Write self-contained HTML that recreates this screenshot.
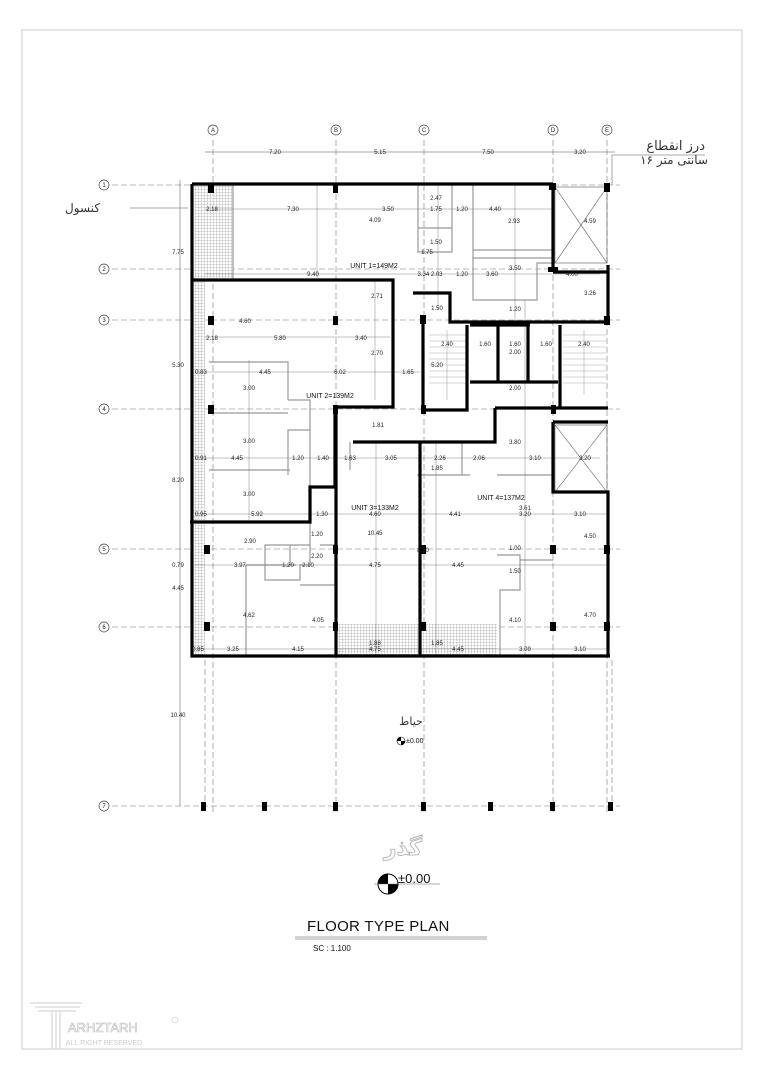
<!DOCTYPE html>
<html><head><meta charset="utf-8"><style>
html,body{margin:0;padding:0;background:#fff;width:764px;height:1080px;overflow:hidden}
svg{display:block}
text{font-family:"Liberation Sans",sans-serif}
.d{font-size:6px;fill:#222}
.fa{font-family:"DejaVu Sans","Noto Sans CJK SC",sans-serif}
</style></head><body>
<svg width="764" height="1080" viewBox="0 0 764 1080" xmlns="http://www.w3.org/2000/svg">
<defs>
<pattern id="h" width="3" height="3" patternUnits="userSpaceOnUse"><rect width="3" height="3" fill="#fff"/><path d="M0 0H3M0 0V3" stroke="#888" stroke-width="0.6"/></pattern>
</defs>
<!-- page frame -->
<rect x="22" y="30" width="720" height="1019" fill="none" stroke="#ccc" stroke-width="1"/>

<!-- grid lines -->
<g stroke="#777" stroke-width="0.6" stroke-dasharray="6,3" fill="none">
<line x1="213" y1="140" x2="213" y2="815"/><line x1="336" y1="140" x2="336" y2="815"/><line x1="424" y1="140" x2="424" y2="815"/><line x1="553" y1="140" x2="553" y2="815"/><line x1="607" y1="140" x2="607" y2="815"/>
<line x1="112" y1="185" x2="620" y2="185"/><line x1="112" y1="269" x2="620" y2="269"/><line x1="112" y1="320" x2="620" y2="320"/><line x1="112" y1="409" x2="620" y2="409"/><line x1="112" y1="549" x2="620" y2="549"/><line x1="112" y1="627" x2="620" y2="627"/><line x1="112" y1="806" x2="620" y2="806"/>
<line x1="205" y1="660" x2="205" y2="806"/><line x1="612" y1="660" x2="612" y2="806"/>
</g>
<!-- grid bubbles -->
<g fill="#fff" stroke="#444" stroke-width="0.7">
<circle cx="213" cy="130" r="5"/><circle cx="336" cy="130" r="5"/><circle cx="424" cy="130" r="5"/><circle cx="553" cy="130" r="5"/><circle cx="607" cy="130" r="5"/>
<circle cx="104" cy="185" r="5"/><circle cx="104" cy="269" r="5"/><circle cx="104" cy="320" r="5"/><circle cx="104" cy="409" r="5"/><circle cx="104" cy="549" r="5"/><circle cx="104" cy="627" r="5"/><circle cx="104" cy="806" r="5"/>
</g>
<g font-size="6" text-anchor="middle" fill="#222">
<text x="213" y="132">A</text><text x="336" y="132">B</text><text x="424" y="132">C</text><text x="553" y="132">D</text><text x="607" y="132">E</text>
<text x="104" y="187">1</text><text x="104" y="271">2</text><text x="104" y="322">3</text><text x="104" y="411">4</text><text x="104" y="551">5</text><text x="104" y="629">6</text><text x="104" y="808">7</text>
</g>
<!-- overall dims -->
<g stroke="#555" stroke-width="0.5">
<line x1="205" y1="152" x2="615" y2="152"/><line x1="180" y1="180" x2="180" y2="806"/>
<line x1="612" y1="155" x2="612" y2="185"/><line x1="612" y1="155" x2="705" y2="155"/>
<line x1="130" y1="208" x2="188" y2="208"/>
</g>
<g class="d" text-anchor="middle">
<text x="275" y="154">7.20</text><text x="380" y="154">5.15</text><text x="488" y="154">7.50</text><text x="580" y="154">3.20</text>
<text x="178" y="254">7.75</text><text x="178" y="367">5.30</text><text x="178" y="482">8.20</text><text x="178" y="567">0.79</text><text x="178" y="590">4.45</text><text x="178" y="717">10.40</text>
</g>
<text x="705" y="150" class="fa" font-size="13" text-anchor="end" fill="#333">درز انقطاع</text>
<text x="708" y="164" class="fa" font-size="12" text-anchor="end" fill="#333">۱۶ سانتی متر</text>
<text x="100" y="212" class="fa" font-size="12" text-anchor="end" fill="#333">کنسول</text>

<!-- hatched areas -->
<rect x="194" y="185" width="39" height="95" fill="url(#h)"/>
<rect x="191" y="280" width="14" height="375" fill="url(#h)"/>
<rect x="336" y="624" width="84" height="33" fill="url(#h)"/>
<rect x="420" y="624" width="77" height="33" fill="url(#h)"/>

<!-- thin interior walls -->
<g stroke="#999" stroke-width="1.2" fill="none">
<line x1="233" y1="185" x2="233" y2="280"/>
<path d="M418 185V252H452V185"/><path d="M418 228H452"/>
<path d="M473 185V258H553"/><path d="M473 250H553"/>
<path d="M473 258V300H537V263H553"/>
<path d="M209 362H288V400"/><path d="M209 413H288"/><path d="M288 400H310V430H288V475"/>
<path d="M209 470H290"/><path d="M310 430V487"/>
<path d="M310 522V565H300V580H265V545H310"/><path d="M246 565H296"/>
<path d="M246 565V655"/><path d="M290 545V565"/><path d="M320 545H335V585H300"/>
<path d="M417 475H470"/><path d="M497 475H553"/>
<path d="M497 555H520V590H500V655"/><path d="M520 560H553"/>
<path d="M350 442V470"/><path d="M462 442V475"/>
</g>
<!-- dimension lines inside -->
<g stroke="#666" stroke-width="0.4">
<line x1="205" y1="209" x2="553" y2="209"/><line x1="205" y1="274" x2="600" y2="274"/>
<line x1="205" y1="337" x2="390" y2="337"/><line x1="195" y1="372" x2="420" y2="372"/>
<line x1="195" y1="458" x2="600" y2="458"/><line x1="195" y1="514" x2="608" y2="514"/>
<line x1="195" y1="565" x2="608" y2="565"/><line x1="195" y1="649" x2="608" y2="649"/>
<line x1="375" y1="280" x2="375" y2="400"/><line x1="376" y1="442" x2="376" y2="657"/>
<line x1="436" y1="442" x2="436" y2="657"/><line x1="525" y1="300" x2="525" y2="657"/>
<line x1="249" y1="360" x2="249" y2="520"/><line x1="317" y1="185" x2="317" y2="280"/>
<line x1="438" y1="185" x2="438" y2="310"/><line x1="515" y1="185" x2="515" y2="320"/>
</g>
<!-- stairs -->
<g stroke="#aaa" stroke-width="0.6">
<path d="M429 335H466M429 341H466M429 347H466M429 353H466M429 359H466M429 365H466M429 371H466M429 377H466M429 383H466"/>
<path d="M563 335H606M563 341H606M563 347H606M563 353H606M563 359H606M563 365H606M563 371H606M563 377H606M563 383H606"/>
<line x1="447" y1="330" x2="447" y2="400"/><line x1="584" y1="330" x2="584" y2="395"/>
</g>
<!-- voids -->
<g stroke="#555" stroke-width="0.6" fill="none">
<rect x="555" y="187" width="52" height="76"/><path d="M555 187L607 263M607 187L555 263"/>
<rect x="555" y="425" width="52" height="67"/><path d="M555 425L607 492M607 425L555 492"/>
</g>
<!-- thick walls -->
<g stroke="#000" stroke-width="3.2" fill="none">
<path d="M192 184H553"/><path d="M553 184V270"/>
<path d="M192 280H393V407H335"/>
<path d="M335 407V487H310V522H190"/>
<path d="M192 184V656H610"/><path d="M608 265V322"/>
<path d="M553 272H608"/>
<path d="M413 293H450V322H608"/>
<path d="M423 315V410H467V325"/><path d="M470 325H530"/>
<path d="M560 325V408"/><path d="M495 408H608"/>
<path d="M495 408V442H353"/><path d="M420 442V656"/><path d="M336 407V656"/>
<path d="M553 422V492H608V656"/><path d="M553 422H608"/>
<path d="M498 325V382M528 325V382M470 382H558"/>
</g>
<!-- columns -->
<g fill="#000">
<rect x="208" y="184" width="6" height="9"/><rect x="333" y="184" width="5" height="9"/><rect x="549" y="183" width="7" height="7"/><rect x="604" y="183" width="6" height="9"/>
<rect x="208" y="316" width="6" height="9"/><rect x="333" y="316" width="5" height="9"/><rect x="420" y="315" width="6" height="9"/><rect x="604" y="316" width="6" height="9"/><rect x="548" y="267" width="10" height="5"/>
<rect x="208" y="405" width="6" height="9"/><rect x="333" y="405" width="5" height="9"/><rect x="421" y="405" width="5" height="9"/><rect x="551" y="405" width="5" height="9"/>
<rect x="204" y="545" width="6" height="9"/><rect x="333" y="545" width="5" height="9"/><rect x="420" y="545" width="6" height="9"/><rect x="550" y="545" width="6" height="9"/><rect x="604" y="545" width="6" height="9"/>
<rect x="204" y="622" width="6" height="9"/><rect x="333" y="622" width="5" height="9"/><rect x="420" y="622" width="6" height="9"/><rect x="550" y="622" width="6" height="9"/><rect x="604" y="622" width="6" height="9"/>
<rect x="201" y="802" width="5" height="9"/><rect x="262" y="802" width="5" height="9"/><rect x="333" y="802" width="5" height="9"/><rect x="421" y="802" width="5" height="9"/><rect x="488" y="802" width="5" height="9"/><rect x="550" y="802" width="5" height="9"/><rect x="608" y="802" width="5" height="9"/>
</g>
<!-- labels -->
<g class="d" text-anchor="middle">
<text x="212" y="211">2.18</text><text x="293" y="211">7.30</text><text x="388" y="211">3.50</text><text x="436" y="211">1.75</text><text x="462" y="211">1.20</text><text x="495" y="211">4.40</text>
<text x="436" y="200">2.47</text><text x="375" y="222">4.09</text><text x="514" y="223">2.93</text><text x="590" y="223">4.59</text>
<text x="436" y="244">1.50</text><text x="427" y="254">1.75</text><text x="515" y="270">3.50</text>
<text x="313" y="276">9.40</text><text x="430" y="276">3.34 2.03</text><text x="462" y="276">1.20</text><text x="492" y="276">3.60</text><text x="572" y="276">4.00</text>
<text x="377" y="298">2.71</text><text x="437" y="310">1.50</text><text x="515" y="311">1.20</text><text x="590" y="295">3.26</text>
<text x="245" y="323">4.60</text><text x="212" y="340">2.18</text><text x="280" y="340">5.80</text><text x="361" y="340">3.40</text>
<text x="447" y="346">2.40</text><text x="485" y="346">1.60</text><text x="515" y="346">1.60</text><text x="546" y="346">1.60</text><text x="584" y="346">2.40</text>
<text x="515" y="354">2.00</text><text x="377" y="355">2.70</text><text x="437" y="367">5.20</text><text x="515" y="390">2.00</text>
<text x="201" y="374">0.83</text><text x="265" y="374">4.45</text><text x="340" y="374">6.02</text><text x="408" y="374">1.65</text>
<text x="249" y="390">3.00</text><text x="378" y="427">1.81</text><text x="515" y="444">3.80</text>
<text x="249" y="443">3.00</text><text x="201" y="460">0.91</text><text x="237" y="460">4.45</text><text x="298" y="460">1.20</text><text x="323" y="460">1.40</text><text x="350" y="460">1.63</text><text x="391" y="460">3.05</text>
<text x="440" y="460">2.26</text><text x="479" y="460">2.06</text><text x="535" y="460">3.10</text><text x="585" y="460">3.20</text><text x="437" y="470">1.85</text>
<text x="249" y="496">3.00</text><text x="201" y="516">0.95</text><text x="257" y="516">5.92</text><text x="322" y="516">1.30</text><text x="375" y="516">4.60</text>
<text x="455" y="516">4.41</text><text x="525" y="510">3.61</text><text x="525" y="516">3.20</text><text x="580" y="516">3.10</text>
<text x="317" y="536">1.20</text><text x="375" y="535">10.45</text><text x="590" y="538">4.50</text>
<text x="250" y="543">2.90</text><text x="317" y="558">2.20</text><text x="423" y="552">8.50</text><text x="515" y="550">1.00</text>
<text x="240" y="567">3.97</text><text x="288" y="567">1.20</text><text x="308" y="567">2.10</text><text x="375" y="567">4.75</text><text x="458" y="567">4.45</text><text x="515" y="573">1.50</text>
<text x="249" y="617">4.62</text><text x="318" y="622">4.05</text><text x="590" y="617">4.70</text><text x="515" y="622">4.10</text>
<text x="375" y="645">1.88</text><text x="437" y="645">1.85</text>
<text x="198" y="651">0.85</text><text x="233" y="651">3.25</text><text x="298" y="651">4.15</text><text x="375" y="651">4.75</text><text x="458" y="651">4.45</text><text x="525" y="651">3.09</text><text x="580" y="651">3.10</text>
</g>
<g font-size="7" fill="#111" text-anchor="middle">
<text x="374" y="268">UNIT 1=149M2</text>
<text x="330" y="398">UNIT 2=139M2</text>
<text x="375" y="510">UNIT 3=133M2</text>
<text x="501" y="500">UNIT 4=137M2</text>
</g>
<!-- yard -->
<text x="411" y="725" class="fa" font-size="11" text-anchor="middle" fill="#333">حیاط</text>
<circle cx="401" cy="741" r="4" fill="#fff" stroke="#000" stroke-width="0.6"/>
<path d="M401 741V737A4 4 0 0 0 397 741Z M401 741V745A4 4 0 0 0 405 741Z" fill="#000"/>
<text x="406" y="743" font-size="7" fill="#111">±0.00</text>
<!-- street -->
<text x="403" y="855" class="fa" font-size="22" font-weight="bold" text-anchor="middle" fill="#fff" stroke="#aaa" stroke-width="0.8">گذر</text>
<circle cx="388" cy="884" r="10" fill="#fff" stroke="#000" stroke-width="1"/>
<path d="M388 884V874A10 10 0 0 0 378 884Z M388 884V894A10 10 0 0 0 398 884Z" fill="#000"/>
<line x1="374" y1="884" x2="440" y2="884" stroke="#666" stroke-width="0.5"/>
<text x="398" y="883" font-size="13" fill="#111">±0.00</text>
<text x="307" y="931" font-size="15" fill="#111" letter-spacing="0.3">FLOOR  TYPE  PLAN</text>
<line x1="295" y1="937" x2="487" y2="937" stroke="#888" stroke-width="0.8"/><line x1="295" y1="939" x2="487" y2="939" stroke="#888" stroke-width="0.8"/>
<text x="313" y="951" font-size="8" fill="#111">SC : 1.100</text>
<!-- logo -->
<g stroke="#ccc" fill="none" stroke-width="1">
<path d="M30 1003H82M35 1007H80M38 1011H76"/><path d="M52 1011V1049M56 1011V1049M60 1011V1049"/>
</g>
<text x="68" y="1032" font-size="13" fill="#fff" stroke="#bbb" stroke-width="0.6">ARHZTARH</text>
<text x="66" y="1045" font-size="7" fill="#ccc">ALL RIGHT RESERVED</text>
<circle cx="175" cy="1020" r="3" fill="none" stroke="#ccc" stroke-width="0.6"/>
</svg>
</body></html>
